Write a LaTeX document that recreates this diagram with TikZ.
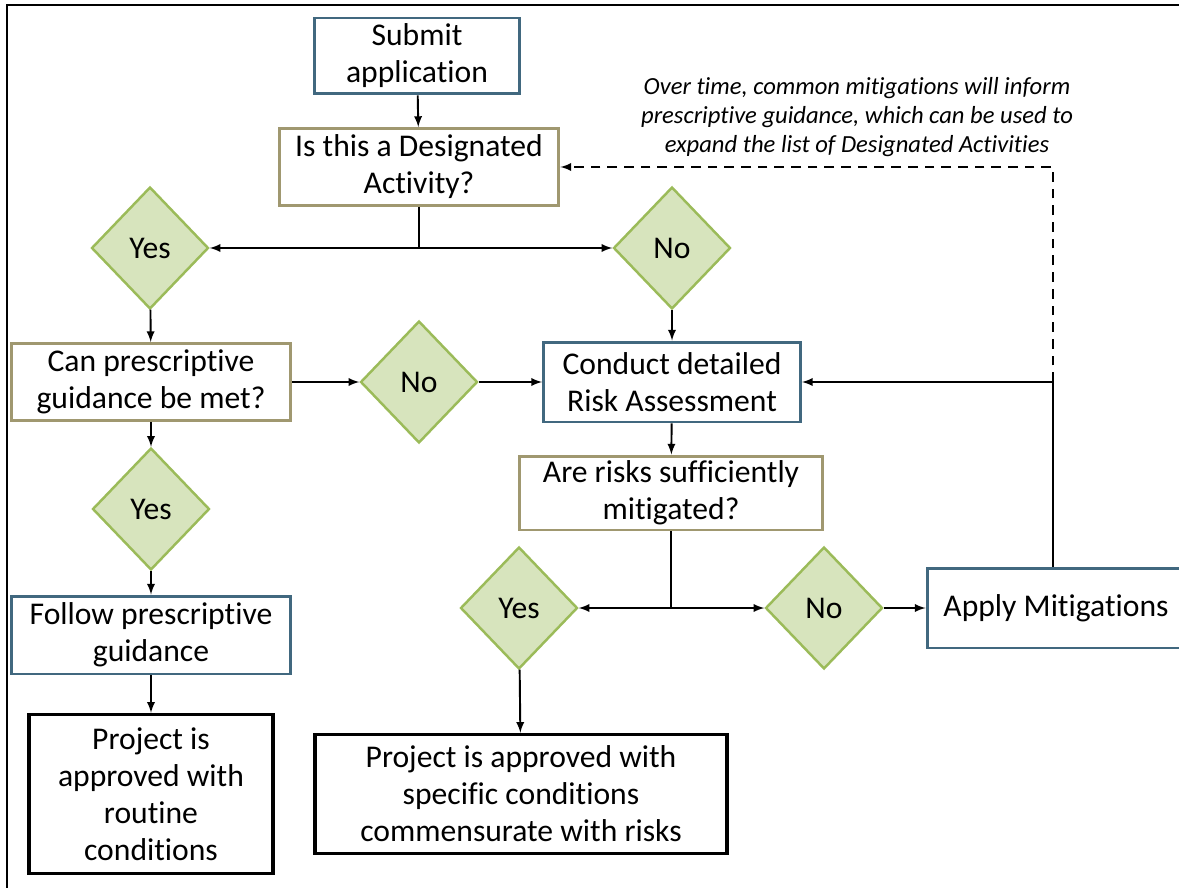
\documentclass[tikz,border=0pt]{standalone}
\usepackage{fontspec}
\setmainfont[Ligatures=NoCommon]{Carlito}
\usetikzlibrary{shapes.geometric,arrows}

\definecolor{boxblue}{RGB}{65,104,127}
\definecolor{boxtan}{RGB}{160,152,112}
\definecolor{answerfill}{RGB}{215,228,189}
\definecolor{answerline}{RGB}{155,187,89}

\tikzset{
	stepbox/.style={draw=boxblue, line width=1.7pt, fill=white, inner sep=0pt, align=center, font=\fontsize{18}{21}\selectfont},
	askbox/.style={stepbox, draw=boxtan},
	endbox/.style={stepbox, draw=black, line width=2pt},
	answer/.style={diamond, draw=answerline, fill=answerfill, line width=1.4pt, inner sep=0pt, minimum width=2.34cm, minimum height=2.44cm, font=\fontsize{18}{21}\selectfont},
	flow/.style={line width=1.1pt, -latex},
	note/.style={align=center, font=\fontsize{14}{16.5}\selectfont\itshape}
}

\begin{document}
\begin{tikzpicture}[x=0.02cm,y=-0.02cm]
	\useasboundingbox (0,0) rectangle (1179,888);
	%frame
	\draw[line width=1.5pt] (7,888) -- (7,5) -- (1179,5);

	\node[stepbox, minimum width=4.1cm, minimum height=1.52cm] (submit) at (417,56) {Submit\\application};
	\node[askbox, minimum width=5.6cm, minimum height=1.54cm] (desig) at (419,167) {Is this a Designated\\Activity?};
	\node[answer] (yes1) at (150,248) {Yes};
	\node[answer] (no1) at (672,248) {No};
	\node[askbox, minimum width=5.6cm, minimum height=1.54cm] (canpres) at (151,382) {Can prescriptive\\guidance be met?};
	\node[answer] (no2) at (419,382) {No};
	\node[stepbox, minimum width=5.14cm, minimum height=1.6cm] (conduct) at (672,382) {Conduct detailed\\Risk Assessment};
	\node[answer] (yes2) at (151,509) {Yes};
	\node[askbox, minimum width=6.06cm, minimum height=1.48cm] (arerisks) at (671,493) {Are risks sufficiently\\mitigated?};
	\node[stepbox, minimum width=5.58cm, minimum height=1.56cm] (follow) at (151,635) {Follow prescriptive\\guidance};
	\node[answer] (yes3) at (519,608) {Yes};
	\node[answer] (no3) at (824,608) {No};
	\node[stepbox, minimum width=5.16cm, minimum height=1.6cm] (apply) at (1056,608) {Apply Mitigations};
	\node[endbox, minimum width=4.88cm, minimum height=3.18cm] (proj1) at (151,794) {Project is\\approved with\\routine\\conditions};
	\node[endbox, minimum width=8.24cm, minimum height=2.38cm] (proj2) at (521,794) {Project is approved with\\specific conditions\\commensurate with risks};
	\node[note] (overtime) at (857,117) {Over time, common mitigations will inform\\prescriptive guidance, which can be used to\\expand the list of Designated Activities};

	\coordinate (split1) at (419,248);
	\coordinate (split2) at (671,608);
	\coordinate (loop) at (1053,382);

	\draw[flow] (submit) -- (desig);
	\draw[line width=1.1pt] (desig.south) -- (split1);
	\draw[flow] (split1) -- (yes1);
	\draw[flow] (split1) -- (no1);
	\draw[flow] (yes1) -- (canpres);
	\draw[flow] (no1) -- (conduct);
	\draw[flow] (canpres) -- (no2);
	\draw[flow] (no2) -- (conduct);
	\draw[flow] (canpres) -- (yes2);
	\draw[flow] (yes2) -- (follow);
	\draw[flow] (follow) -- (proj1);
	\draw[flow] (conduct) -- (arerisks);
	\draw[line width=1.1pt] (arerisks.south -| split2) -- (split2);
	\draw[flow] (split2) -- (yes3);
	\draw[flow] (split2) -- (no3);
	\draw[flow] (no3) -- (apply);
	\draw[flow] (yes3) -- (proj2);
	\draw[line width=1.1pt] (loop |- apply.north) -- (loop);
	\draw[flow] (loop) -- (conduct);
	\draw[flow, dash pattern=on 5.5pt off 4pt] (loop) |- (desig.east);
\end{tikzpicture}
\end{document}
